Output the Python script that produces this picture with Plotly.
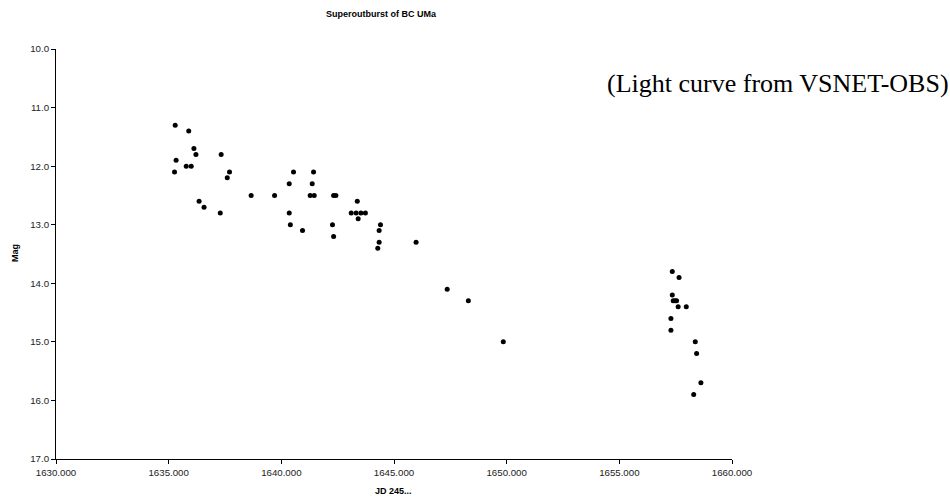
import plotly.graph_objects as go

jd = [1635.29, 1635.89, 1636.12, 1636.21, 1635.33, 1635.78, 1636.00, 1635.26,
      1637.33, 1637.70, 1637.60, 1636.35, 1636.57, 1637.29, 1638.66, 1639.70,
      1640.54, 1640.35, 1640.35, 1640.40, 1641.43, 1641.37, 1641.28, 1641.46,
      1642.32, 1642.42, 1643.37, 1643.10, 1643.32, 1643.53, 1643.73, 1643.41,
      1640.94, 1642.27, 1642.32, 1644.40, 1644.34, 1644.34, 1644.28, 1645.98,
      1647.36, 1648.30, 1649.85,
      1657.35, 1657.65, 1657.35, 1657.39, 1657.47, 1657.54, 1657.61, 1657.97,
      1657.29, 1657.29, 1658.37, 1658.43, 1658.62, 1658.30]
mag = [11.3, 11.4, 11.7, 11.8, 11.9, 12.0, 12.0, 12.1,
       11.8, 12.1, 12.2, 12.6, 12.7, 12.8, 12.5, 12.5,
       12.1, 12.3, 12.8, 13.0, 12.1, 12.3, 12.5, 12.5,
       12.5, 12.5, 12.6, 12.8, 12.8, 12.8, 12.8, 12.9,
       13.1, 13.0, 13.2, 13.0, 13.1, 13.3, 13.4, 13.3,
       14.1, 14.3, 15.0,
       13.8, 13.9, 14.2, 14.3, 14.3, 14.3, 14.4, 14.4,
       14.6, 14.8, 15.0, 15.2, 15.7, 15.9]

x_ticks = [1630, 1635, 1640, 1645, 1650, 1655, 1660]
y_ticks = [10, 11, 12, 13, 14, 15, 16, 17]

fig = go.Figure()
fig.add_trace(go.Scatter(
    x=jd, y=mag, mode="markers",
    marker=dict(color="black", size=5, line=dict(width=0)),
    showlegend=False, hoverinfo="x+y"))

sans = "Liberation Sans, Arial, sans-serif"
axis_font = dict(family=sans, size=9.7, color="#222222")
L, R, T, B = 56, 218, 49, 40
W, H = 950, 499
pw, ph = W - L - R, H - T - B
fig.update_layout(
    width=W, height=H,
    margin=dict(l=L, r=R, t=T, b=B),
    plot_bgcolor="white", paper_bgcolor="white",
    title=dict(text="<b>Superoutburst of BC UMa</b>",
               font=dict(family=sans, size=9, color="black"),
               x=381/W, xanchor="center", y=1 - 14/H, yanchor="middle"),
    xaxis=dict(range=[1630, 1660], tickvals=x_ticks, tickformat=".3f",
               showline=True, linecolor="black", linewidth=1,
               ticks="outside", ticklen=4, tickcolor="black",
               showgrid=False, zeroline=False, tickfont=axis_font,
               automargin=False),
    yaxis=dict(range=[17, 10], tickvals=y_ticks, tickformat=".1f",
               showline=True, linecolor="black", linewidth=1,
               ticks="outside", ticklen=4, tickcolor="black",
               showgrid=False, zeroline=False, tickfont=axis_font,
               automargin=False),
)
fig.add_annotation(
    text="<b>JD 245...</b>", xref="paper", yref="paper",
    x=(393 - L) / pw, y=-(491 - (T + ph)) / ph, xanchor="center", yanchor="middle",
    showarrow=False, font=dict(family=sans, size=9, color="black"))
fig.add_annotation(
    text="<b>Mag</b>", xref="paper", yref="paper", textangle=-90,
    x=-(L - 15) / pw, y=1 - (253 - T) / ph, xanchor="center", yanchor="middle",
    showarrow=False, font=dict(family=sans, size=9, color="black"))
fig.add_annotation(
    text="(Light curve from VSNET-OBS)", xref="paper", yref="paper",
    x=(777.5 - L) / pw, y=1 - (84 - T) / ph, xanchor="center", yanchor="middle",
    showarrow=False,
    font=dict(family="Liberation Serif, Times New Roman, serif", size=26, color="black"))

fig.write_html("out.html")
